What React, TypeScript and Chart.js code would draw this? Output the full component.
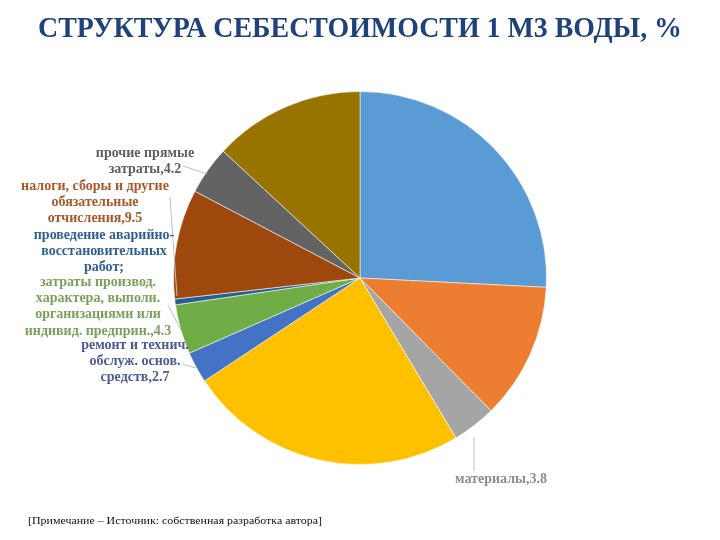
import React, { useEffect, useRef } from 'react';
import { Chart, registerables } from 'chart.js';
Chart.register(...registerables);

const titleText = 'СТРУКТУРА СЕБЕСТОИМОСТИ 1 М3 ВОДЫ, %';
const noteText = '[Примечание – Источник: собственная разработка автора]';

const categories = [
  'оплата труда',
  'отчисления на социальные нужды',
  'материалы',
  'электроэнергия',
  'ремонт и технич. обслуж. основ. средств',
  'затраты производ. характера, выполн. организациями или индивид. предприн.',
  'проведение аварийно-восстановительных работ',
  'налоги, сборы и другие обязательные отчисления',
  'прочие прямые затраты',
  'амортизация',
];
const values = [25.8, 11.8, 3.8, 24.3, 2.7, 4.3, 0.5, 9.5, 4.2, 13.1];
const colors = ['#5b9bd5', '#ed7d31', '#a5a5a5', '#ffc000', '#4472c4', '#70ad47', '#255e91', '#9e480e', '#636363', '#997300'];

// label lines shown on the picture (null = label not visible)
const labelNameLines: (string[] | null)[] = [
  null,
  null,
  ['материалы'],
  null,
  ['ремонт и технич.', 'обслуж. основ.', 'средств'],
  ['затраты производ.', 'характера, выполн.', 'организациями или', 'индивид. предприн.'],
  ['проведение аварийно-', 'восстановительных', 'работ;'],
  ['налоги, сборы и другие', 'обязательные', 'отчисления'],
  ['прочие прямые', 'затраты'],
  null,
];
const labelShowValue = [false, false, true, false, true, true, false, true, true, false];
const labelColors = ['', '', '#8c8c8c', '', '#4a5a94', '#7ba05b', '#2e6094', '#a8582a', '#5f5f5f', ''];

// layout: text centre x, first line y, leader line
const labelLayout: Record<number, { x: number; y: number; line: number[] }> = {
  2: { x: 501, y: 479, line: [474, 437, 474, 471] },
  4: { x: 135, y: 345, line: [182, 364, 196, 368] },
  5: { x: 98, y: 282, line: [168, 305, 181, 330] },
  6: { x: 104, y: 235, line: [170, 197, 177, 296] },
  7: { x: 95, y: 186, line: [0, 0, 0, 0] },
  8: { x: 145, y: 153, line: [183, 166, 207, 174] },
};

const overlay = {
  id: 'overlay',
  afterDraw(chart: any) {
    const ctx = chart.ctx as CanvasRenderingContext2D;
    ctx.save();
    // title
    ctx.font = 'bold 30px "Liberation Serif", "Times New Roman", serif';
    ctx.fillStyle = '#20427a';
    ctx.textBaseline = 'middle';
    ctx.textAlign = 'left';
    const tw = ctx.measureText(titleText).width;
    const targetW = 644;
    ctx.save();
    ctx.translate(38, 29);
    ctx.scale(targetW / tw, 1);
    ctx.fillText(titleText, 0, 0);
    ctx.restore();

    // note
    ctx.font = '11px "Liberation Serif", "Times New Roman", serif';
    ctx.fillStyle = '#111111';
    const nw = ctx.measureText(noteText).width;
    ctx.save();
    ctx.translate(28, 521);
    ctx.scale(294 / nw, 1);
    ctx.fillText(noteText, 0, 0);
    ctx.restore();

    // leader lines
    ctx.strokeStyle = '#bfbfbf';
    ctx.lineWidth = 1;
    Object.keys(labelLayout).forEach((k) => {
      const l = labelLayout[+k].line;
      if (l[0] === 0 && l[2] === 0) return;
      ctx.beginPath();
      ctx.moveTo(l[0], l[1]);
      ctx.lineTo(l[2], l[3]);
      ctx.stroke();
    });

    // labels
    ctx.font = 'bold 14px "Liberation Serif", "Times New Roman", serif';
    ctx.textAlign = 'center';
    labelNameLines.forEach((lines, i) => {
      if (!lines) return;
      const lay = labelLayout[i];
      ctx.fillStyle = labelColors[i];
      lines.forEach((t, j) => {
        let txt = t;
        if (j === lines.length - 1 && labelShowValue[i]) txt = t + ',' + values[i].toFixed(1);
        ctx.fillText(txt, lay.x, lay.y + j * 16.3);
      });
    });
    ctx.restore();
  },
};

export default function App() {
  const ref = useRef<HTMLCanvasElement>(null);
  useEffect(() => {
    document.body.style.margin = '0';
    const chart = new Chart(ref.current!, {
      type: 'pie',
      data: {
        labels: categories,
        datasets: [
          {
            data: values,
            backgroundColor: colors,
            borderColor: 'rgba(255,255,255,0.55)',
            borderWidth: 1,
          },
        ],
      },
      options: {
        responsive: false,
        animation: false,
        layout: { padding: { left: 173, right: 173, top: 91, bottom: 75 } },
        plugins: {
          legend: { display: false },
          tooltip: { enabled: false },
          title: { display: false },
        },
      },
      plugins: [overlay],
    });
    return () => chart.destroy();
  }, []);
  return (
    <div style={{ width: 720, height: 540, background: '#ffffff' }}>
      <canvas ref={ref} width={720} height={540} />
    </div>
  );
}
